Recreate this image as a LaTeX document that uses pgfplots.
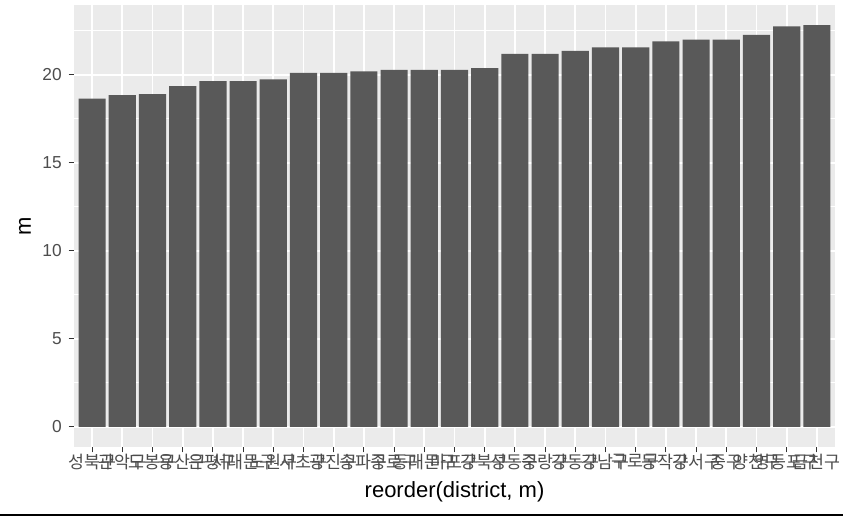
\documentclass[border=0pt]{standalone}
\usepackage{fontspec}
\setmainfont{Liberation Sans}
\newfontfamily\cjk{Noto Sans CJK KR}
\usepackage{pgfplots}
\pgfplotsset{compat=1.18}
\usepackage{pgfplotstable}

\definecolor{panel}{HTML}{EBEBEB}
\definecolor{barfill}{HTML}{595959}
\definecolor{txt}{HTML}{4D4D4D}
\definecolor{tk}{HTML}{333333}

% mean per district, sorted (reorder(district, m))
\pgfplotstableread{
x m
1 18.64
2 18.84
3 18.90
4 19.36
5 19.64
6 19.64
7 19.73
8 20.10
9 20.10
10 20.19
11 20.27
12 20.27
13 20.27
14 20.38
15 21.19
16 21.19
17 21.36
18 21.55
19 21.55
20 21.90
21 22.00
22 22.00
23 22.27
24 22.75
25 22.82
}\districts

\begin{document}
\begin{tikzpicture}
\useasboundingbox (0,0) rectangle (632.25pt,387.75pt);
\fill[white] (0,0) rectangle (632.25pt,387.75pt);
\begin{axis}[
    at={(55.5pt,52.5pt)}, anchor=south west,
    scale only axis,
    width=570.75pt, height=331.5pt,
    xmin=0.4, xmax=25.6,
    ymin=-1.141, ymax=23.961,
    axis background/.style={fill=panel},
    axis line style={draw=none},
    tick pos=left,
    tick align=outside,
    major tick length=4pt,
    minor tick length=0pt,
    tick style={draw=tk, line width=0.8pt},
    /pgf/number format/assume math mode=true,
    xtick={1,...,25},
    xticklabels={성북구,관악구,도봉구,용산구,은평구,서대문구,노원구,서초구,광진구,송파구,종로구,동대문구,마포구,강북구,성동구,중랑구,강동구,강남구,구로구,동작구,강서구,중구,양천구,영등포구,금천구},
    xticklabel style={font=\cjk\fontsize{13}{14}\selectfont, text=txt, inner sep=1pt, yshift=-0.5pt},
    ytick={0,5,10,15,20},
    minor ytick={2.5,7.5,12.5,17.5,22.5},
    yticklabel style={font=\fontsize{13}{14}\selectfont, text=txt, inner sep=1pt, xshift=-4pt},
    grid=both,
    major grid style={draw=white, line width=1.4pt},
    minor grid style={draw=white, line width=0.7pt},
]
\addplot[ybar, bar width=0.9, fill=barfill, draw=none] table[x=x, y=m] {\districts};
\end{axis}
\node[font=\fontsize{16.5}{18}\selectfont, text=black] at (340.9pt,18.75pt) {reorder(district, m)};
\node[font=\fontsize{16.5}{18}\selectfont, text=black, rotate=90] at (18.75pt,218.25pt) {m};
\draw[black, line width=1.5pt] (0,1.5pt) -- (632.25pt,1.5pt);
\end{tikzpicture}
\end{document}
